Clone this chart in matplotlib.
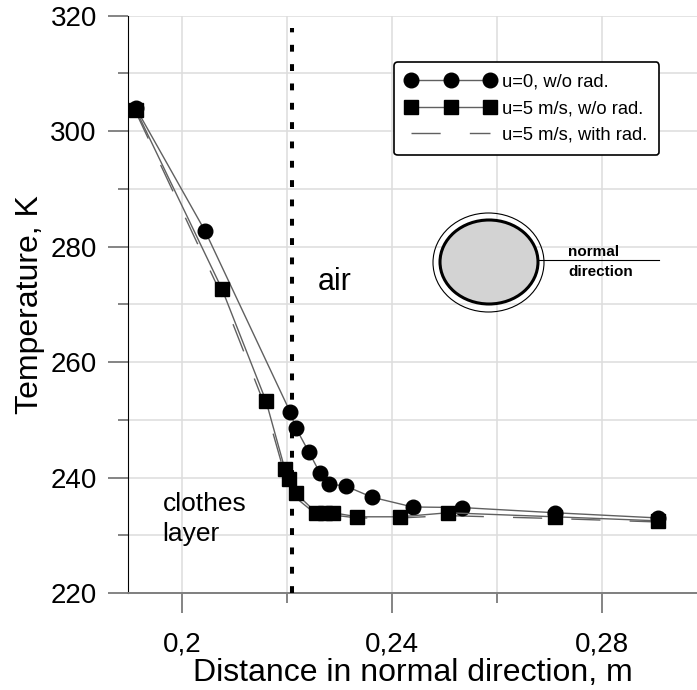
import matplotlib.pyplot as plt
from matplotlib.patches import Ellipse

plt.rcParams['font.family'] = ['Liberation Sans', 'DejaVu Sans']

# u=0, w/o rad.
xCircle = [0.1912, 0.2044, 0.2206, 0.2217, 0.2242, 0.2263, 0.2280, 0.2313, 0.2362, 0.2440, 0.2534, 0.2711, 0.2908]
tCircle = [304.0, 282.7, 251.4, 248.6, 244.4, 240.8, 238.9, 238.5, 236.6, 234.9, 234.8, 233.9, 233.0]
# u=5 m/s, w/o rad.
xSquare = [0.1912, 0.2076, 0.2160, 0.2196, 0.2204, 0.2217, 0.2256, 0.2273, 0.2288, 0.2334, 0.2416, 0.2507, 0.2711, 0.2908]
tSquare = [303.7, 272.7, 253.3, 241.5, 239.7, 237.3, 233.9, 233.9, 233.9, 233.2, 233.2, 233.9, 233.2, 232.5]
# u=5 m/s, with rad.
xRad = [0.1912, 0.2076, 0.2160, 0.2196, 0.2204, 0.2217, 0.2256, 0.2288, 0.2334, 0.2416, 0.2507, 0.2711, 0.2908]
tRad = [303.3, 271.5, 252.0, 240.5, 238.8, 236.5, 233.6, 233.5, 233.0, 233.0, 233.4, 232.9, 232.3]

interfaceX = 0.2210
xTicks = [0.2, 0.24, 0.28]
xTickLabels = ['0,2', '0,24', '0,28']
yTicks = [220, 240, 260, 280, 300, 320]

W, H = 697, 690
fig = plt.figure(figsize=(W / 100, H / 100), dpi=100)
ax = fig.add_axes([128 / W, 97 / H, 1 - 128 / W, (593 - 15.7) / H])

lineGray = '#606060'
ax.plot(xRad, tRad, color=lineGray, lw=1.0, dashes=(21, 21), label='u=5 m/s, with rad.', zorder=3)
ax.plot(xCircle, tCircle, color=lineGray, lw=1.0, marker='o', ms=10.5, mfc='k', mec='k',
        label='u=0, w/o rad.', zorder=4)
ax.plot(xSquare, tSquare, color=lineGray, lw=1.0, marker='s', ms=10.5, mfc='k', mec='k',
        label='u=5 m/s, w/o rad.', zorder=4)

ax.plot([interfaceX, interfaceX], [220, 317.9], color='k', lw=2.9, dashes=(1.7, 3.1),
        dash_capstyle='butt', zorder=5)

ax.set_xlim(0.1897, 0.2982)
ax.set_ylim(220, 320)
ax.set_xticks(xTicks)
ax.set_xticklabels(xTickLabels)
ax.set_xticks([0.22, 0.26], minor=True)
ax.set_yticks(yTicks)
ax.set_yticks([230, 250, 270, 290, 310], minor=True)
ax.grid(True, which='both', color='#dddddd', lw=1.1, zorder=0)
ax.set_axisbelow(True)

ax.spines['top'].set_visible(False)
ax.spines['right'].set_visible(False)
ax.spines['left'].set_color('k')
ax.spines['bottom'].set_color('#7f7f7f')
ax.spines['bottom'].set_linewidth(1.4)
ax.tick_params(which='major', length=14.4, width=1.2, color='#707070', labelsize=20, pad=8)
ax.tick_params(which='minor', length=7.2, width=1.2, color='#707070')
ax.tick_params(axis='x', pad=13)

ax.set_xlabel('Distance in normal direction, m', fontsize=23, labelpad=1)
ax.set_ylabel('Temperature, K', fontsize=23, labelpad=4)

ax.text(0.2259, 272.5, 'air', fontsize=22, ha='left', va='baseline')
ax.text(0.1963, 229.0, 'clothes\nlayer', fontsize=19, ha='left', va='baseline', linespacing=1.3)

handles, labels = ax.get_legend_handles_labels()
order = [1, 2, 0]
leg = ax.legend([handles[i] for i in order], [labels[i] for i in order], loc='upper left',
                bbox_to_anchor=(394 / W, 1 - 62 / H), bbox_transform=fig.transFigure,
                borderaxespad=0, numpoints=3, handlelength=4.9, fontsize=13.2, frameon=True,
                fancybox=True, edgecolor='k', framealpha=1, labelspacing=0.5,
                handletextpad=0.35, borderpad=0.65)
leg.get_frame().set_linewidth(1.2)

# inset sketch of the body cross-section, in figure pixels
ov = fig.add_axes([0, 0, 1, 1], zorder=10)
ov.set_xlim(0, W)
ov.set_ylim(H, 0)
ov.axis('off')
ov.patch.set_alpha(0)
ov.add_patch(Ellipse((488.5, 262.5), 111, 99, fill=False, edgecolor='k', lw=0.8))
ov.add_patch(Ellipse((489, 262), 98, 84, facecolor='#d3d3d3', edgecolor='k', lw=2.2))
ov.plot([538, 659], [260, 260], color='k', lw=0.8)
ov.text(568, 256, 'normal', fontsize=11, fontweight='bold', ha='left', va='baseline')
ov.text(568, 276, 'direction', fontsize=11, fontweight='bold', ha='left', va='baseline')

plt.savefig('out.png', dpi=100)
